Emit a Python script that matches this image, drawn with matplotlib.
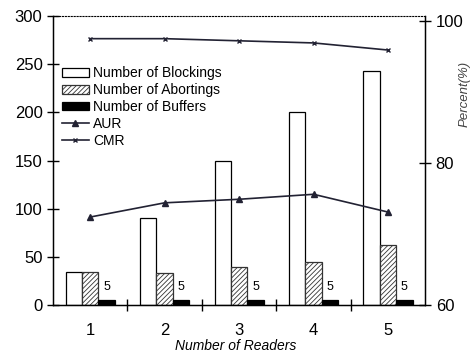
import numpy as np
import matplotlib.pyplot as plt

plt.rcParams['font.family'] = ['Liberation Sans', 'DejaVu Sans']
plt.rcParams['hatch.linewidth'] = 0.6

readers = [1, 2, 3, 4, 5]
blockings = [34, 90, 150, 200, 243]
abortings = [34, 33, 40, 45, 62]
buffers = [5, 5, 5, 5, 5]
aur = [72.4, 74.4, 74.9, 75.6, 73.1]
cmr = [97.5, 97.5, 97.2, 96.9, 95.9]

x = np.array(readers)
w = 0.22

fig = plt.figure(figsize=(4.73, 3.54), dpi=100)
ax = fig.add_axes([0.112, 0.138, 0.787, 0.817])

b1 = ax.bar(x - w, blockings, w, color='white', edgecolor='black', linewidth=0.9,
            label='Number of Blockings')
b2 = ax.bar(x, abortings, w, color='white', edgecolor='#333333', hatch='///////',
            linewidth=0.9, label='Number of Abortings')
b3 = ax.bar(x + w, buffers, w, color='black', edgecolor='black', linewidth=0.9,
            label='Number of Buffers')
for xi, v in zip(x, buffers):
    ax.text(xi + w, v + 8, str(v), ha='center', va='bottom', fontsize=9)

ax.set_xlim(0.5, 5.5)
ax.set_ylim(0, 300)
ax.set_yticks([0, 50, 100, 150, 200, 250, 300])
ax.set_xticks([1.5, 2.5, 3.5, 4.5])
ax.set_xticklabels([])
ax.set_xticks(x, minor=True)
ax.set_xticklabels([str(r) for r in readers], minor=True)
ax.tick_params(axis='x', which='minor', length=0, pad=13, labelsize=12)
ax.tick_params(axis='x', which='major', direction='inout', length=8, width=1)
ax.tick_params(axis='y', direction='inout', length=8, width=1, labelsize=12)
ax.set_xlabel('Number of Readers', fontstyle='italic', fontsize=10)
ax.xaxis.set_label_coords(0.49, -0.118)
ax.spines['top'].set_linestyle(':')
ax.spines['top'].set_linewidth(0.8)
ax.spines['left'].set_linewidth(1)
ax.spines['bottom'].set_linewidth(1)

ax2 = ax.twinx()
l1, = ax2.plot(x, aur, color='#222233', marker='^', markersize=4.5, linewidth=1.2, label='AUR')
l2, = ax2.plot(x, cmr, color='#222233', marker='x', markersize=3.5, linewidth=1.2, label='CMR')
ax2.set_ylim(60, 100.7)
ax2.set_yticks([60, 80, 100])
ax2.tick_params(axis='y', direction='inout', length=8, width=1, labelsize=12)
ax2.set_ylabel('Percent(%)', fontstyle='italic', fontsize=9.5, color='#444444')
ax2.yaxis.set_label_coords(1.09, 0.73)
ax2.spines['top'].set_visible(False)
ax2.spines['right'].set_linewidth(1)

ax.legend(handles=[b1, b2, b3, l1, l2], loc='upper left', bbox_to_anchor=(0.02, 0.83),
          frameon=False, fontsize=10, handlelength=1.95, handleheight=0.55,
          labelspacing=0.2, handletextpad=0.3, borderpad=0.1, borderaxespad=0)

fig.savefig('out.png', dpi=100)
